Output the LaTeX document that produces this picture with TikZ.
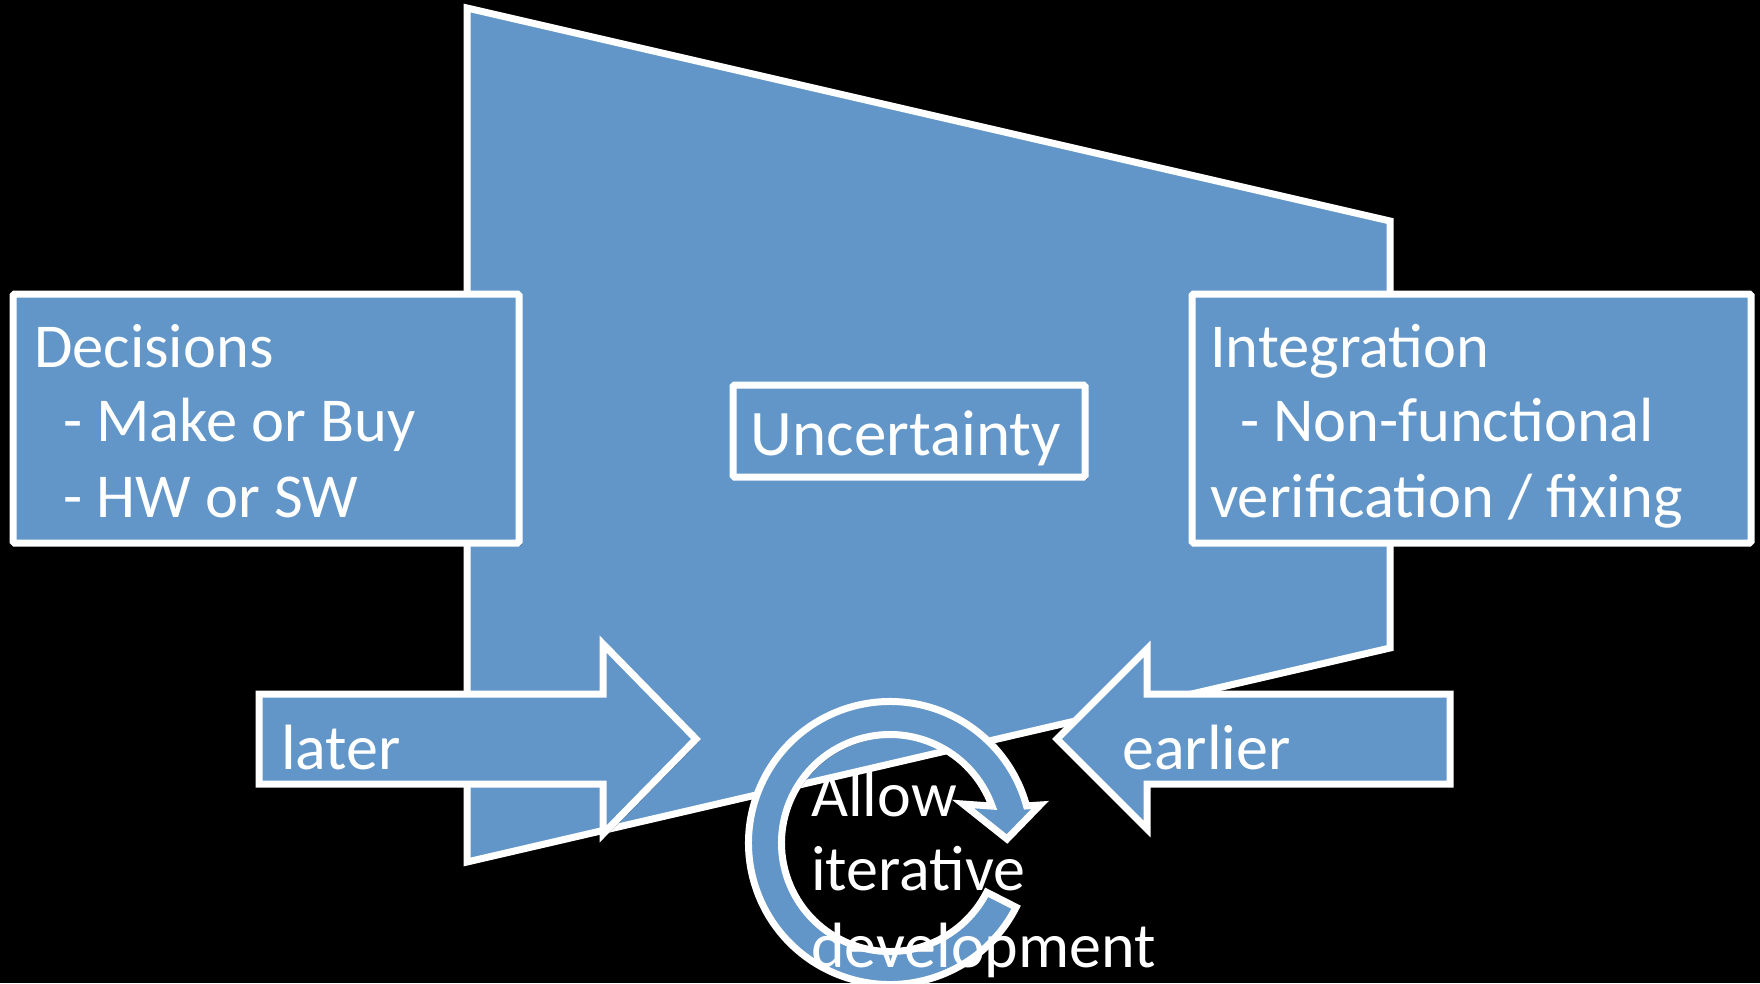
\documentclass[tikz,border=0pt]{standalone}
\usepackage{fontspec}
\setmainfont{Carlito}
\usetikzlibrary{calc,shadows}
\definecolor{shapeblue}{RGB}{98,150,200}
\begin{document}
\begin{tikzpicture}[x=1pt,y=1pt,
  shp/.style={fill=shapeblue, draw=white, line width=7pt},
  shd/.style={drop shadow={shadow xshift=2.5pt, shadow yshift=-3pt, opacity=0.3, fill=black}},
  boxshp/.style={shp, shd, rectangle, inner sep=0pt, rounded corners=1.5pt},
  lbl/.style={text=white, font=\fontsize{64}{77}\selectfont, inner sep=0pt, anchor=base west},
  boxlbl/.style={lbl, font=\fontsize{62.5}{75}\selectfont}]
\useasboundingbox (0,0) rectangle (1760,-983);
\fill[black] (0,0) rectangle (1760,-983);
\clip (0,0) rectangle (1760,-983);
% big trapezoid
\draw[shp] (467,-8) -- (1390,-221) -- (1390,-648) -- (467,-862) -- cycle;
% boxes
\node[boxshp, minimum width=506pt, minimum height=249pt] (dec) at (266,-418.5) {};
\node[boxshp, minimum width=559pt, minimum height=249pt] (int) at (1471.5,-418.5) {};
\node[boxshp, minimum width=352pt, minimum height=92pt] (unc) at (909,-431) {};
% block arrows
\draw[shp, shd] (259,-694) -- (603,-694) -- (603,-644) -- (696,-739) -- (603,-834) -- (603,-784) -- (259,-784) -- cycle;
\draw[shp, shd] (1450,-694) -- (1147,-694) -- (1147,-649) -- (1057,-739) -- (1147,-829) -- (1147,-784) -- (1450,-784) -- cycle;
% circular arrow
\coordinate (C) at (890,-843);
\draw[shp, shd] ($(C)+(-27:141.5)$) arc[start angle=-27, end angle=-344.8, radius=141.5pt]
  -- (1040,-805) -- (1007,-839) -- (963,-804)
  -- ($(C)+(-340.1:108.5)$) arc[start angle=-340.1, end angle=-27, radius=108.5pt] -- cycle;
% texts
\node[boxlbl] (d1) at (34,-367) {Decisions};
\node[boxlbl] (d2) at (63,-441) {- Make or Buy};
\node[boxlbl] (d3) at (63,-517) {- HW or SW};
\node[boxlbl] (i1) at (1210,-367) {Integration};
\node[boxlbl] (i2) at (1240,-441) {- Non-functional};
\node[boxlbl] (i3) at (1210,-517) {verification / fixing};
\node[lbl, anchor=base, font=\fontsize{65}{78}\selectfont] (u) at (906,-455) {Uncertainty};
\node[lbl] (lt) at (281,-769) {later};
\node[lbl] (er) at (1122,-769) {earlier};
\node[lbl] (a1) at (811,-816) {Allow};
\node[lbl] (a2) at (811,-890) {iterative};
\node[lbl] (a3) at (811,-967) {development};
\end{tikzpicture}
\end{document}
